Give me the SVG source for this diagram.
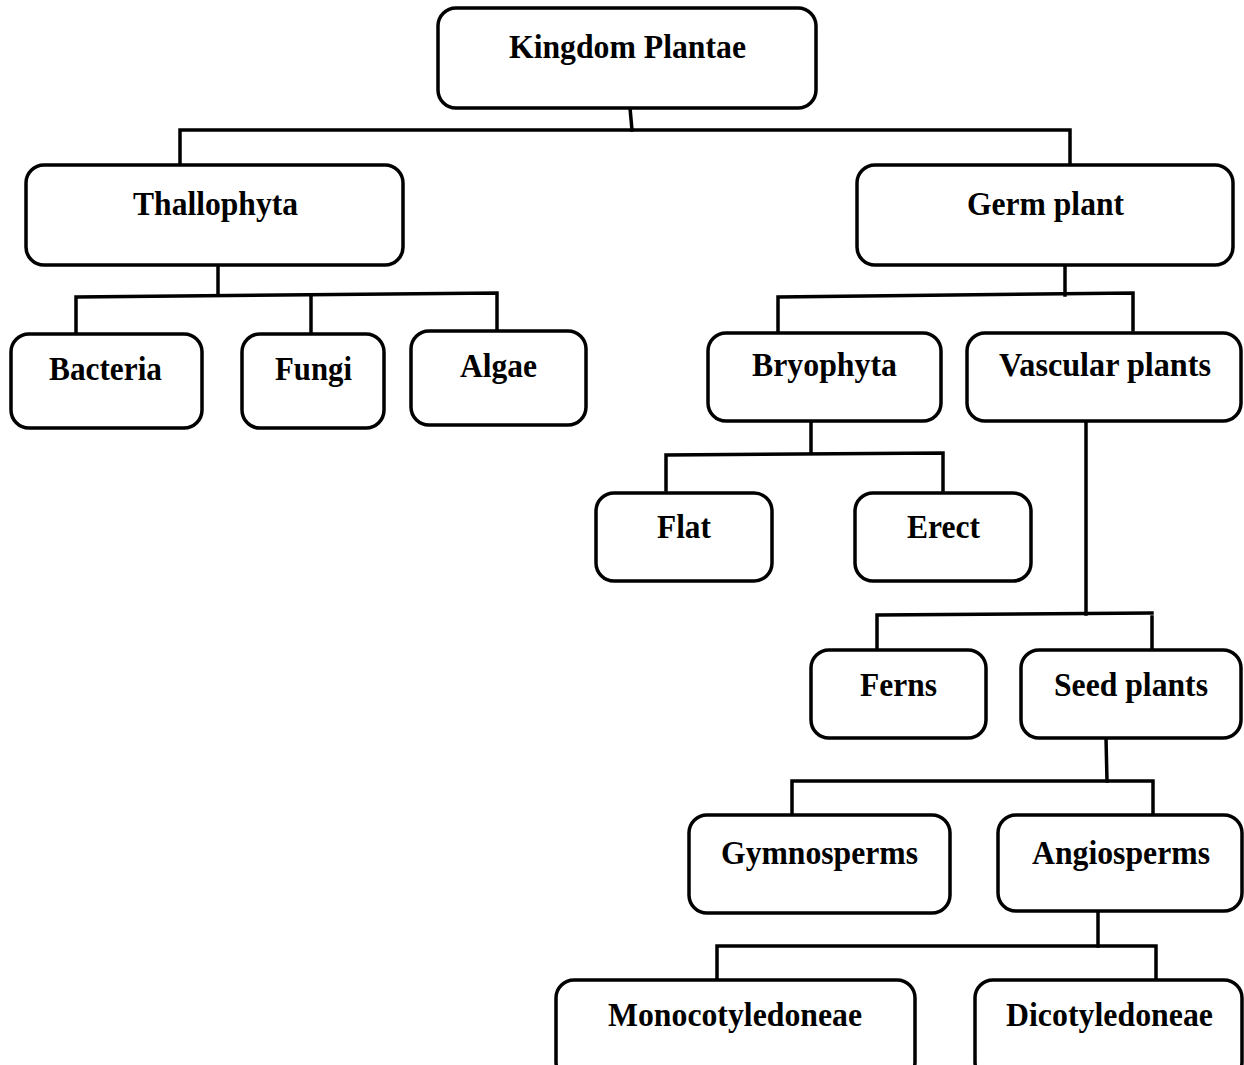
<svg xmlns="http://www.w3.org/2000/svg" width="1244" height="1065" viewBox="0 0 1244 1065">
  <style>
    .box { fill: #ffffff; stroke: #000000; stroke-width: 3.5; }
    .lbl { font-family: "Liberation Serif", "Times New Roman", Times, serif; font-weight: bold; font-size: 34px; fill: #000000; }
    .wire { fill: none; stroke: #000000; stroke-width: 3.5; stroke-linecap: square; stroke-linejoin: miter; }
  </style>
  <rect width="1244" height="1065" fill="#ffffff"/>

  <!-- connectors -->
  <g id="connectors">
    <path class="wire" d="M630,108 L632,130"/>
    <path class="wire" d="M180,165 L180,130 L1070,130 L1070,165"/>

    <path class="wire" d="M218,265 L218,295"/>
    <path class="wire" d="M76,333 L76,297 L497,293 L497,330"/>
    <path class="wire" d="M311,295 L311,333"/>

    <path class="wire" d="M1065,265 L1065,295"/>
    <path class="wire" d="M778,333 L778,297 L1133,293 L1133,330"/>

    <path class="wire" d="M811,421 L811,453"/>
    <path class="wire" d="M666,490 L666,455 L943,453 L943,490"/>

    <path class="wire" d="M1086,421 L1086,614"/>
    <path class="wire" d="M877,648 L877,615 L1152,613"/>
    <path class="wire" d="M1152,617 L1152,648"/>

    <path class="wire" d="M1106,738 L1107,781"/>
    <path class="wire" d="M792,815 L792,781 L1153,781 L1153,815"/>

    <path class="wire" d="M1098,911 L1098,946"/>
    <path class="wire" d="M717,980 L717,946 L1156,946 L1156,980"/>
  </g>

  <g id="kingdom-plantae">
    <rect class="box" x="438" y="8" width="378" height="100" rx="18"/>
    <text class="lbl" x="509" y="58" textLength="237" lengthAdjust="spacingAndGlyphs">Kingdom Plantae</text>
  </g>

  <g id="thallophyta">
    <rect class="box" x="26" y="165" width="377" height="100" rx="18"/>
    <text class="lbl" x="133" y="215" textLength="165" lengthAdjust="spacingAndGlyphs">Thallophyta</text>
  </g>

  <g id="germ-plant">
    <rect class="box" x="857" y="165" width="376" height="100" rx="18"/>
    <text class="lbl" x="967" y="215" textLength="157" lengthAdjust="spacingAndGlyphs">Germ plant</text>
  </g>

  <g id="bacteria">
    <rect class="box" x="11" y="334" width="191" height="94" rx="18"/>
    <text class="lbl" x="49" y="380" textLength="113" lengthAdjust="spacingAndGlyphs">Bacteria</text>
  </g>

  <g id="fungi">
    <rect class="box" x="242" y="334" width="142" height="94" rx="18"/>
    <text class="lbl" x="275" y="380" textLength="77" lengthAdjust="spacingAndGlyphs">Fungi</text>
  </g>

  <g id="algae">
    <rect class="box" x="411" y="331" width="175" height="94" rx="18"/>
    <text class="lbl" x="460" y="377" textLength="77" lengthAdjust="spacingAndGlyphs">Algae</text>
  </g>

  <g id="bryophyta">
    <rect class="box" x="708" y="333" width="233" height="88" rx="18"/>
    <text class="lbl" x="752" y="376" textLength="145" lengthAdjust="spacingAndGlyphs">Bryophyta</text>
  </g>

  <g id="vascular-plants">
    <rect class="box" x="967" y="333" width="274" height="88" rx="18"/>
    <text class="lbl" x="999" y="376" textLength="212" lengthAdjust="spacingAndGlyphs">Vascular plants</text>
  </g>

  <g id="flat">
    <rect class="box" x="596" y="493" width="176" height="88" rx="18"/>
    <text class="lbl" x="657" y="538" textLength="54" lengthAdjust="spacingAndGlyphs">Flat</text>
  </g>

  <g id="erect">
    <rect class="box" x="855" y="493" width="176" height="88" rx="18"/>
    <text class="lbl" x="907" y="538" textLength="73" lengthAdjust="spacingAndGlyphs">Erect</text>
  </g>

  <g id="ferns">
    <rect class="box" x="811" y="650" width="175" height="88" rx="18"/>
    <text class="lbl" x="860" y="696" textLength="77" lengthAdjust="spacingAndGlyphs">Ferns</text>
  </g>

  <g id="seed-plants">
    <rect class="box" x="1021" y="650" width="220" height="88" rx="18"/>
    <text class="lbl" x="1054" y="696" textLength="154" lengthAdjust="spacingAndGlyphs">Seed plants</text>
  </g>

  <g id="gymnosperms">
    <rect class="box" x="689" y="815" width="261" height="98" rx="18"/>
    <text class="lbl" x="721" y="864" textLength="197" lengthAdjust="spacingAndGlyphs">Gymnosperms</text>
  </g>

  <g id="angiosperms">
    <rect class="box" x="998" y="815" width="244" height="96" rx="18"/>
    <text class="lbl" x="1032" y="864" textLength="178" lengthAdjust="spacingAndGlyphs">Angiosperms</text>
  </g>

  <g id="monocotyledoneae">
    <rect class="box" x="556" y="980" width="359" height="100" rx="18"/>
    <text class="lbl" x="608" y="1026" textLength="254" lengthAdjust="spacingAndGlyphs">Monocotyledoneae</text>
  </g>

  <g id="dicotyledoneae">
    <rect class="box" x="975" y="980" width="267" height="100" rx="18"/>
    <text class="lbl" x="1006" y="1026" textLength="207" lengthAdjust="spacingAndGlyphs">Dicotyledoneae</text>
  </g>
</svg>
